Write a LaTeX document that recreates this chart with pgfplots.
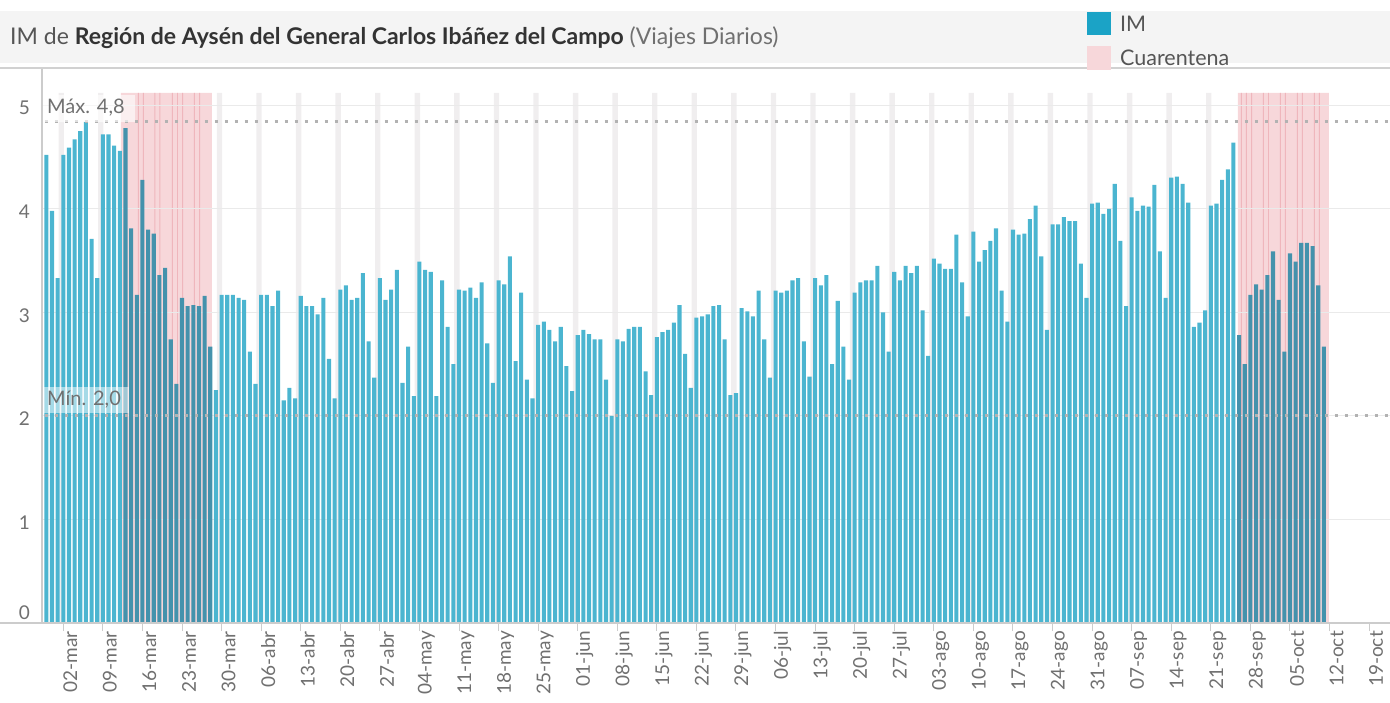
\documentclass[border=0pt]{standalone}
\usepackage{fontspec}
\setmainfont{Lato}
\usepackage{pgfplots}
\pgfplotsset{compat=1.18}
\definecolor{barc}{RGB}{75,181,208}
\definecolor{barq}{RGB}{68,146,172}
\definecolor{legim}{RGB}{27,163,198}
\definecolor{pinkq}{RGB}{247,215,218}
\definecolor{pinkl}{RGB}{239,182,188}
\definecolor{wband}{RGB}{240,238,239}
\definecolor{gridc}{RGB}{234,234,234}
\definecolor{axc}{RGB}{204,204,204}
\definecolor{refc}{RGB}{178,178,178}
\definecolor{tickc}{RGB}{112,112,112}
\definecolor{hdr}{RGB}{244,244,244}
\definecolor{ttl}{RGB}{85,85,85}
\definecolor{ttlb}{RGB}{51,51,51}
\begin{document}
\begin{tikzpicture}[x=1bp,y=1bp]
\useasboundingbox (0,0) rectangle (1390,702);
\fill[hdr] (0,639) rectangle (1390,691);
\begin{axis}[
  at={(42bp,79bp)}, anchor=south west,
  scale only axis, width=1348bp, height=555bp,
  xmin=-3.77, xmax=234.7, ymin=0, ymax=5.36,
  axis line style={draw=none},
  tick pos=left, tick align=outside, major tick length=8bp,
  xtick={0,7,...,231},
  xticklabels={02-mar,09-mar,16-mar,23-mar,30-mar,06-abr,13-abr,20-abr,27-abr,04-may,11-may,18-may,25-may,01-jun,08-jun,15-jun,22-jun,29-jun,06-jul,13-jul,20-jul,27-jul,03-ago,10-ago,17-ago,24-ago,31-ago,07-sep,14-sep,21-sep,28-sep,05-oct,12-oct,19-oct},
  xticklabel style={rotate=90, anchor=east, inner sep=0pt, yshift=-7bp, font=\fontsize{19bp}{22bp}\selectfont, text=tickc},
  ytick={1,2,3,4,5},
  extra y ticks={0},
  extra y tick style={yticklabel style={yshift=13bp}},
  yticklabel style={anchor=east, inner sep=0pt, xshift=-4bp, yshift=-3bp, font=\fontsize{19bp}{22bp}\selectfont, text=tickc},
  /pgf/number format/assume math mode=true,
  xtick style={draw=axc, line width=1bp},
  ytick style={draw=none},
  every axis plot/.append style={forget plot},
]
% quarantine background
\addplot[ybar, bar width=16.1, bar shift=0pt, fill=pinkq, draw=none] coordinates {(18.25,5.12) (215.85,5.12)};
\addplot[ybar, bar width=0.17, bar shift=0pt, fill=pinkl, draw=none] coordinates {
(13.27,5.12) (14.15,5.12) (16.2,5.12) (17.1,5.12) (19.3,5.12) (20.2,5.12) (21.1,5.12) (23.2,5.12) (24.1,5.12)
(208.4,5.12) (209.3,5.12) (210.2,5.12) (212.3,5.12) (213.2,5.12) (215.3,5.12) (216.2,5.12) (218.3,5.12) (219.2,5.12) (221.3,5.12) (222.2,5.12)};
% weekly bands
\addplot[ybar, bar width=0.95, bar shift=0pt, fill=wband, draw=none] coordinates {
(-0.375,5.12) (6.625,5.12) (27.625,5.12) (34.625,5.12) (41.625,5.12) (48.625,5.12) (55.625,5.12) (62.625,5.12) (69.625,5.12) (76.625,5.12)
(83.625,5.12) (90.625,5.12) (97.625,5.12) (104.625,5.12) (111.625,5.12) (118.625,5.12) (125.625,5.12) (132.625,5.12) (139.625,5.12) (146.625,5.12)
(153.625,5.12) (160.625,5.12) (167.625,5.12) (174.625,5.12) (181.625,5.12) (188.625,5.12) (195.625,5.12) (202.625,5.12)};
% grid lines
\addplot[gridc, line width=1bp] coordinates {(-3.77,1) (234.7,1)};
\addplot[gridc, line width=1bp] coordinates {(-3.77,2) (234.7,2)};
\addplot[gridc, line width=1bp] coordinates {(-3.77,3) (234.7,3)};
\addplot[gridc, line width=1bp] coordinates {(-3.77,4) (234.7,4)};
\addplot[gridc, line width=1bp] coordinates {(-3.77,5) (234.7,5)};
% IM bars
\addplot[ybar, bar width=0.72, bar shift=0pt, fill=barc, draw=none] coordinates {
(-3,4.52) (-2,3.98) (-1,3.33) (0,4.52) (1,4.59) (2,4.67) (3,4.75) (4,4.84) (5,3.71) (6,3.33)
(7,4.72) (8,4.72) (9,4.61) (10,4.56)
(27,2.25) (28,3.17) (29,3.17) (30,3.17) (31,3.14) (32,3.12) (33,2.62) (34,2.31)
(35,3.17) (36,3.17) (37,3.06) (38,3.21) (39,2.15) (40,2.27) (41,2.17)
(42,3.16) (43,3.06) (44,3.06) (45,2.98) (46,3.14) (47,2.55) (48,2.17)
(49,3.22) (50,3.26) (51,3.12) (52,3.14) (53,3.38) (54,2.72) (55,2.37)
(56,3.33) (57,3.12) (58,3.22) (59,3.41) (60,2.32) (61,2.67) (62,2.19)
(63,3.49) (64,3.41) (65,3.39) (66,2.19) (67,3.31) (68,2.86) (69,2.50)
(70,3.22) (71,3.21) (72,3.24) (73,3.14) (74,3.29) (75,2.70) (76,2.32)
(77,3.31) (78,3.27) (79,3.54) (80,2.53) (81,3.19) (82,2.35) (83,2.17)
(84,2.88) (85,2.91) (86,2.83) (87,2.72) (88,2.86) (89,2.48) (90,2.24)
(91,2.78) (92,2.83) (93,2.79) (94,2.74) (95,2.74) (96,2.35) (97,2.00)
(98,2.74) (99,2.72) (100,2.84) (101,2.86) (102,2.86) (103,2.43) (104,2.20)
(105,2.76) (106,2.81) (107,2.83) (108,2.90) (109,3.07) (110,2.60) (111,2.27)
(112,2.95) (113,2.96) (114,2.98) (115,3.06) (116,3.07) (117,2.74) (118,2.20)
(119,2.22) (120,3.04) (121,3.01) (122,2.96) (123,3.21) (124,2.74) (125,2.37)
(126,3.21) (127,3.19) (128,3.21) (129,3.31) (130,3.33) (131,2.72) (132,2.38)
(133,3.33) (134,3.26) (135,3.36) (136,2.50) (137,3.11) (138,2.67) (139,2.35)
(140,3.19) (141,3.29) (142,3.31) (143,3.31) (144,3.45) (145,3.00) (146,2.62)
(147,3.39) (148,3.31) (149,3.45) (150,3.38) (151,3.45) (152,3.02) (153,2.58)
(154,3.52) (155,3.47) (156,3.42) (157,3.42) (158,3.75) (159,3.29) (160,2.96)
(161,3.78) (162,3.49) (163,3.60) (164,3.69) (165,3.81) (166,3.21) (167,2.91)
(168,3.80) (169,3.75) (170,3.76) (171,3.90) (172,4.03) (173,3.54) (174,2.83)
(175,3.85) (176,3.85) (177,3.92) (178,3.88) (179,3.88) (180,3.47) (181,3.14)
(182,4.05) (183,4.06) (184,3.95) (185,4.00) (186,4.24) (187,3.69) (188,3.06)
(189,4.11) (190,3.98) (191,4.03) (192,4.02) (193,4.23) (194,3.59) (195,3.14)
(196,4.30) (197,4.31) (198,4.24) (199,4.06) (200,2.86) (201,2.90) (202,3.02)
(203,4.03) (204,4.05) (205,4.28) (206,4.38) (207,4.64)
};
\addplot[ybar, bar width=0.72, bar shift=0pt, fill=barq, draw=none] coordinates {
(11,4.78) (12,3.81) (13,3.17) (14,4.28) (15,3.80) (16,3.76) (17,3.36) (18,3.43)
(19,2.74) (20,2.31) (21,3.14) (22,3.06) (23,3.07) (24,3.06) (25,3.16) (26,2.67)
(208,2.78) (209,2.50) (210,3.17) (211,3.27) (212,3.22) (213,3.36) (214,3.59)
(215,3.12) (216,2.62) (217,3.57) (218,3.49) (219,3.67) (220,3.67) (221,3.64)
(222,3.26) (223,2.67)
};
% reference lines
\addplot[refc, line width=3bp, dash pattern=on 3.5bp off 6.5bp] coordinates {(-3.3,4.84) (234.7,4.84)};
\addplot[refc, line width=3bp, dash pattern=on 3.5bp off 6.5bp] coordinates {(-3.3,2.0) (234.7,2.0)};
\end{axis}
% axis lines
\draw[axc, line width=1.5bp] (0,79) -- (1390,79);
\draw[axc, line width=1.5bp] (42,79) -- (42,634);
\draw[axc!90, line width=1.2bp] (0,634) -- (1390,634);
% reference labels
\fill[white, opacity=0.6] (43,580) rectangle (135,607);
\node[anchor=west, inner sep=0pt, text=tickc, font=\fontsize{20bp}{22bp}\selectfont] at (47,594) {Máx. 4,8};
\fill[white, opacity=0.5] (43,289) rectangle (129,315);
\node[anchor=west, inner sep=0pt, text=tickc, font=\fontsize{20bp}{22bp}\selectfont] at (47,302) {Mín. 2,0};
% title
\node[anchor=west, inner sep=0pt, font=\fontsize{23bp}{26bp}\selectfont] at (10,664)
  {\color{ttl}IM de \textcolor{ttlb}{\bfseries Región de Aysén del General Carlos Ibáñez del Campo} \color{tickc}(Viajes Diarios)};
% legend
\fill[legim] (1087,667) rectangle (1111,690);
\node[anchor=west, inner sep=0pt, text=ttl, font=\fontsize{21.5bp}{24bp}\selectfont] at (1120,678) {IM};
\fill[pinkq] (1087,632) rectangle (1111,656);
\node[anchor=west, inner sep=0pt, text=ttl, font=\fontsize{21.5bp}{24bp}\selectfont] at (1120,644) {Cuarentena};
\end{tikzpicture}
\end{document}
